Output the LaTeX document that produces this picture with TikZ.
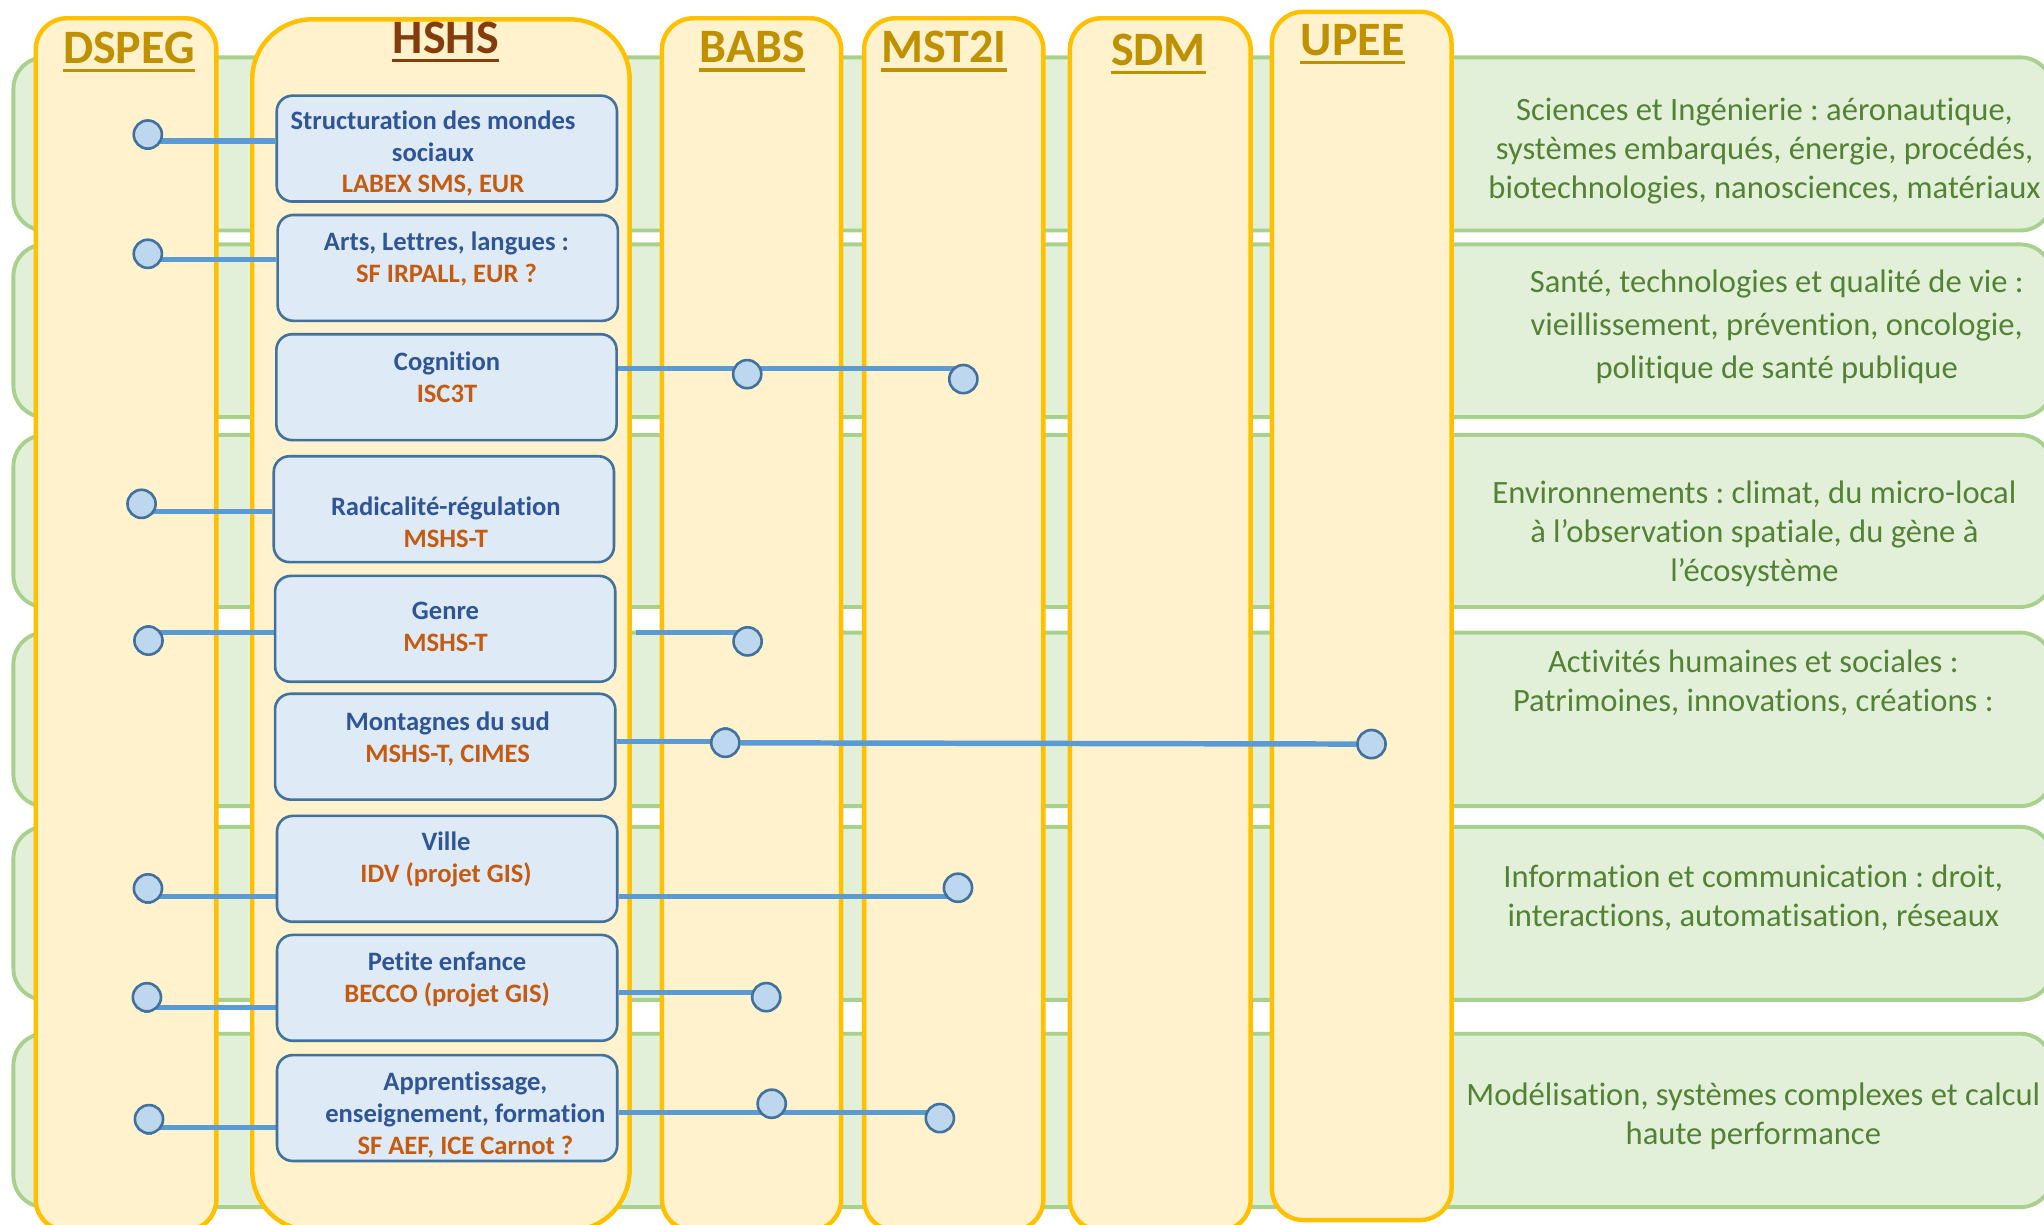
\documentclass[tikz,border=0pt]{standalone}
\usepackage{fontspec}
\setmainfont{Carlito}[Ligatures=NoCommon]
\frenchspacing
\definecolor{bandfill}{HTML}{E2F0D9}
\definecolor{bandline}{HTML}{A9D18E}
\definecolor{colfill}{HTML}{FFF2CC}
\definecolor{colline}{HTML}{FFC000}
\definecolor{boxfill}{HTML}{DEEBF7}
\definecolor{boxline}{HTML}{41719C}
\definecolor{dotfill}{HTML}{BDD7EE}
\definecolor{linkcol}{HTML}{5B9BD5}
\definecolor{gold}{HTML}{BF9000}
\definecolor{hshscol}{HTML}{843C0C}
\definecolor{topicblue}{HTML}{2F5597}
\definecolor{labcol}{HTML}{C55A11}
\definecolor{axegreen}{HTML}{548235}
\newcommand\lab[1]{\textcolor{labcol}{#1}}
\pgfdeclarelayer{back}
\pgfdeclarelayer{links}
\pgfsetlayers{back,links,main}

\begin{document}
\begin{tikzpicture}[x=.5pt, y=-.5pt,
  band/.style={draw=bandline, fill=bandfill, line width=1.5pt, rounded corners=12pt},
  col/.style={draw=colline, fill=colfill, line width=1.7pt},
  title/.style={font=\bfseries\fontsize{18.4}{20}\selectfont, anchor=base, inner sep=0pt},
  topic/.style={draw=boxline, fill=boxfill, line width=1pt, rounded corners=6pt,
    minimum width=130.5pt, minimum height=40.6pt},
  topictxt/.style={font=\bfseries\fontsize{10.2}{12.2}\selectfont, text=topicblue,
    align=center, inner sep=0pt},
  axe/.style={font=\fontsize{12.5}{15}\selectfont, text=axegreen, align=center, inner sep=0pt},
  dot/.style={circle, draw=boxline, fill=dotfill, line width=1pt, minimum size=10.8pt, inner sep=0pt},
  link/.style={draw=linkcol, line width=2.1pt}]
\useasboundingbox (0,0) rectangle (1568,939);
\begin{pgfonlayer}{back}
\foreach \t/\b in {44/176.8, 187.5/320, 333.7/465.6, 485.3/618.4, 634.3/767, 793/926}
  \draw[band] (10.3,\t) rectangle (1574,\b);
\foreach \l/\r/\t/\b/\rc in {27.4/166/14/944/12pt, 193.5/483/14.8/944/23pt,
    507.8/645.3/14/944/12pt, 662.9/800.4/14/944/12pt, 820.7/959.4/14/944/12pt,
    975.7/1113.5/9/935.9/12pt}
  \draw[col, rounded corners=\rc] (\l,\t) rectangle (\r,\b);
\foreach \n/\x/\y/\c in {DSPEG/98.9/48.6/gold, HSHS/342/40.7/hshscol, BABS/577/48.1/gold,
    MST2I/724/48.1/gold, SDM/888.7/49.9/gold, UPEE/1037.7/42.2/gold} {
  \node[title, text=\c] (h\n) at (\x,\y) {\n};
  \draw[\c, line width=1.3pt] ([yshift=-2.8pt]h\n.base west) -- ([yshift=-2.8pt]h\n.base east);
}
\end{pgfonlayer}

\foreach \i/\x/\y/\txt in {
  1/1353.6/116/{Sciences et Ingénierie : aéronautique,\\systèmes embarqués, énergie, procédés,\\biotechnologies, nanosciences, matériaux},
  2/1363/250.7/{Santé, technologies et qualité de vie :\\[1.5pt]vieillissement, prévention, oncologie,\\[1.5pt]politique de santé publique},
  3/1345.8/409.7/{Environnements : climat, du micro-local\\à l’observation spatiale, du gène à\\l’écosystème},
  4/1345/524/{Activités humaines et sociales :\\Patrimoines, innovations, créations :},
  5/1345/689/{Information et communication : droit,\\interactions, automatisation, réseaux},
  6/1345/856/{Modélisation, systèmes complexes et calcul\\haute performance}}
  \node[axe] (a\i) at (\x,\y) {\txt};

\foreach \i/\x/\y/\dx/\dy/\txt in {
  1/342.8/114/-10.6/3.8/{Structuration des mondes\\sociaux\\\lab{LABEX SMS, EUR}},
  2/343.5/205.5/-1/-6.7/{Arts, Lettres, langues :\\\lab{SF IRPALL, EUR ?}},
  3/342.5/297/0.4/-7.8/{Cognition\\\lab{ISC3T}},
  4/340.5/390.6/1.5/10/{Radicalité-régulation\\\lab{MSHS-T}},
  5/341.5/482.4/0.3/-1.3/{Genre\\\lab{MSHS-T}},
  6/341.5/572.8/1.9/-5.8/{Montagnes du sud\\\lab{MSHS-T, CIMES}},
  7/343/666.5/-0.8/-7/{Ville\\\lab{IDV (projet GIS)}},
  8/343/757.8/0/-6.6/{Petite enfance\\\lab{BECCO (projet GIS)}},
  9/343/850/14/5.5/{Apprentissage,\\enseignement, formation\\\lab{SF AEF, ICE Carnot ?}}} {
  \node[topic] (s\i) at (\x,\y) {};
  \node[topictxt] (t\i) at (\x+\dx,\y+\dy) {\txt};
}

\foreach \n/\x/\y in {d1/113.4/103.2, d2/113.4/194.7, d4/108.6/386.5, d5/113.9/491.4,
    d7/113.5/681.5, d8/112.7/765, d9/114.3/858.5, b3/573.2/287, m3/739/290.8,
    b5/573.5/492, b6/556.4/569.8, u6/1052.1/570.8, m7/734.9/681, b8/587.8/764.9,
    b9/592/846.7, m9/721/857.7}
  \node[dot] (\n) at (\x,\y) {};
\coordinate (g5) at (488,485.3);

\begin{pgfonlayer}{links}
\draw[link] (s1.west |- 0,108.3) -| (d1);
\draw[link] (s2.west |- 0,199) -| (d2);
\draw[link] (s3.east |- 0,282.5) -| (b3);
\draw[link] (b3 |- 0,282.5) -| (m3);
\draw[link] (s4.west |- 0,392.3) -| (d4);
\draw[link] (s5.west |- 0,485) -| (d5);
\draw[link] (g5) -| (b5);
\draw[link] (s6.east |- 0,569) -| (b6);
\draw[link] (b6) -- (u6);
\draw[link] (s7.west |- 0,687.9) -| (d7);
\draw[link] (s7.east |- 0,687.8) -| (m7);
\draw[link] (s8.west |- 0,773) -| (d8);
\draw[link] (s8.east |- 0,761.5) -| (b8);
\draw[link] (s9.west |- 0,865) -| (d9);
\draw[link] (s9.east |- 0,853.5) -| (b9);
\draw[link] (b9 |- 0,853.5) -| (m9);
\end{pgfonlayer}
\end{tikzpicture}
\end{document}
